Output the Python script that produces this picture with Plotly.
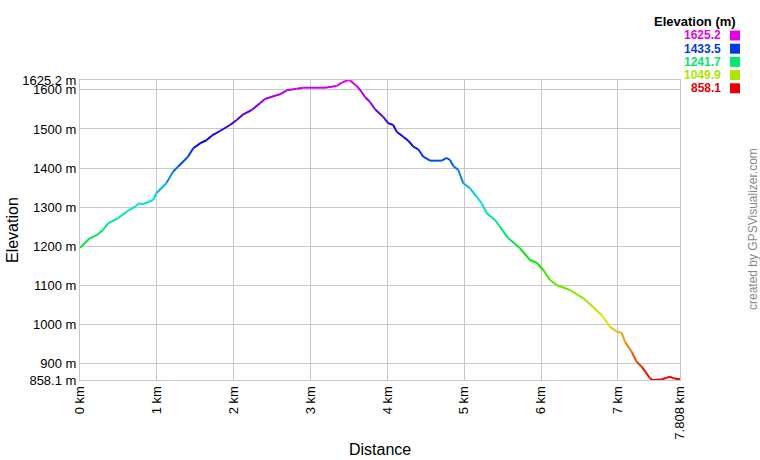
import colorsys
import plotly.graph_objects as go

distance_km = [0.000, 0.061, 0.126, 0.234, 0.299, 0.364, 0.494, 0.625, 0.733, 0.764,
               0.820, 0.950, 0.993, 1.123, 1.210, 1.275, 1.405, 1.474, 1.562, 1.649,
               1.714, 1.822, 1.952, 2.039, 2.125, 2.234, 2.342, 2.407, 2.538, 2.603,
               2.690, 2.820, 2.906, 3.188, 3.340, 3.406, 3.491, 3.514, 3.601, 3.666,
               3.709, 3.774, 3.839, 3.947, 4.012, 4.077, 4.121, 4.207, 4.272, 4.337,
               4.402, 4.467, 4.555, 4.707, 4.772, 4.815, 4.858, 4.923, 4.988, 5.075,
               5.162, 5.227, 5.293, 5.401, 5.574, 5.726, 5.856, 5.943, 6.029, 6.116,
               6.203, 6.376, 6.550, 6.680, 6.789, 6.897, 6.984, 7.049, 7.092, 7.179,
               7.244, 7.310, 7.418, 7.457, 7.570, 7.635, 7.678, 7.721, 7.808]
elevation_m = [1196, 1207.6, 1220.4, 1230.7, 1241.6, 1258.8, 1271.6, 1291.0, 1303.0, 1309.9,
               1307.4, 1318.4, 1335.5, 1361.1, 1390.7, 1403.5, 1429.1, 1450.6, 1463.3, 1471.8,
               1482.8, 1494.8, 1510.1, 1522.9, 1537.5, 1548.5, 1565.6, 1576.6, 1585.1, 1588.6,
               1598.9, 1603.0, 1605.5, 1605.5, 1609.9, 1618.3, 1625.2, 1624.0, 1609.9, 1594.5,
               1581.7, 1568.9, 1550.3, 1530.6, 1514.5, 1510.1, 1493.0, 1480.2, 1470.0, 1454.6,
               1448.0, 1429.1, 1418.9, 1418.9, 1425.8, 1420.6, 1405.3, 1395.1, 1361.1, 1348.3,
               1326.8, 1309.9, 1284.4, 1267.2, 1220.4, 1194.9, 1164.9, 1158.0, 1139.4, 1113.8,
               1101.0, 1088.2, 1067.0, 1044.0, 1024.3, 994.4, 981.6, 979.0, 956.0, 930.5,
               904.9, 892.1, 862.4, 858.1, 859.5, 864.0, 866.5, 862.4, 859.7]

elev_min = 858.1
elev_max = 1625.2
dist_max = 7.808

y_tick_vals = [858.1, 900, 1000, 1100, 1200, 1300, 1400, 1500, 1600, 1625.2]
y_tick_text = ["858.1 m", "900 m", "1000 m", "1100 m", "1200 m", "1300 m",
               "1400 m", "1500 m", "1600 m", "1625.2 m"]
x_tick_vals = [0, 1, 2, 3, 4, 5, 6, 7, 7.808]
x_tick_text = ["0 km", "1 km", "2 km", "3 km", "4 km", "5 km", "6 km", "7 km", "7.808 km"]

legend_values = ["1625.2", "1433.5", "1241.7", "1049.9", "858.1"]

FONT = "Arial, Liberation Sans, sans-serif"


def elev_color(e):
    f = (e - elev_min) / (elev_max - elev_min)
    f = min(max(f, 0), 1)
    r, g, b = colorsys.hsv_to_rgb(f * 300 / 360.0, 1.0, 0.9)
    return "rgb(%d,%d,%d)" % (round(r * 255), round(g * 255), round(b * 255))


fig = go.Figure()
for i in range(len(distance_km) - 1):
    e_mid = (elevation_m[i] + elevation_m[i + 1]) / 2
    fig.add_trace(go.Scatter(
        x=distance_km[i:i + 2], y=elevation_m[i:i + 2], mode="lines",
        line=dict(color=elev_color(e_mid), width=2),
        hoverinfo="skip", showlegend=False))

grid = "#c8c8c8"
fig.update_layout(
    width=760, height=460,
    margin=dict(l=80, r=80, t=80, b=80),
    paper_bgcolor="white", plot_bgcolor="white",
    font=dict(family=FONT, size=12, color="black"),
    showlegend=False,
    xaxis=dict(range=[0, dist_max], tickvals=x_tick_vals, ticktext=x_tick_text,
               tickangle=-90, showgrid=True, gridcolor=grid, gridwidth=1,
               zeroline=False, showline=True, linecolor=grid, mirror=True,
               ticks="", tickfont=dict(size=13, color="black")),
    yaxis=dict(range=[elev_min, elev_max], tickvals=y_tick_vals, ticktext=y_tick_text,
               showgrid=True, gridcolor=grid, gridwidth=1,
               zeroline=False, showline=True, linecolor=grid, mirror=True,
               ticks="", tickfont=dict(size=13, color="black")),
)

# Axis titles
fig.add_annotation(text="Distance", xref="paper", yref="paper", x=0.5, y=0,
                   yanchor="middle", yshift=-69, showarrow=False,
                   font=dict(size=16, color="black"))
fig.add_annotation(text="Elevation", xref="paper", yref="paper", x=0, y=0.5,
                   xanchor="center", xshift=-68, textangle=-90, showarrow=False,
                   font=dict(size=16, color="black"))


def px_x(px):
    return (px - 80) / 600.0


def px_y(py):
    return (380 - py) / 300.0


# Colour legend (right top)
fig.add_annotation(text="<b>Elevation (m)</b>", xref="paper", yref="paper",
                   x=px_x(738), y=px_y(22), xanchor="right", yanchor="middle",
                   showarrow=False, font=dict(size=13, color="black"))
legend_rows = [35.5, 48.7, 61.9, 75.1, 88.3]
for val, row in zip(legend_values, legend_rows):
    col = elev_color(float(val))
    fig.add_annotation(text="<b>%s</b>" % val, xref="paper", yref="paper",
                       x=px_x(722), y=px_y(row), xanchor="right", yanchor="middle",
                       showarrow=False, borderpad=0,
                       font=dict(size=12, color=col))
    fig.add_shape(type="rect", xref="paper", yref="paper",
                  x0=px_x(730), x1=px_x(740), y0=px_y(row + 5), y1=px_y(row - 5),
                  fillcolor=col, line=dict(width=0))

fig.add_annotation(text="created by GPSVisualizer.com", xref="paper", yref="paper",
                   x=px_x(753), y=px_y(229), xanchor="center", yanchor="middle",
                   textangle=-90, showarrow=False,
                   font=dict(size=12, color="#888888"))

fig.write_html("out.html", config={"displayModeBar": False},
               post_script="document.body.style.margin='0';document.body.style.padding='0';")
